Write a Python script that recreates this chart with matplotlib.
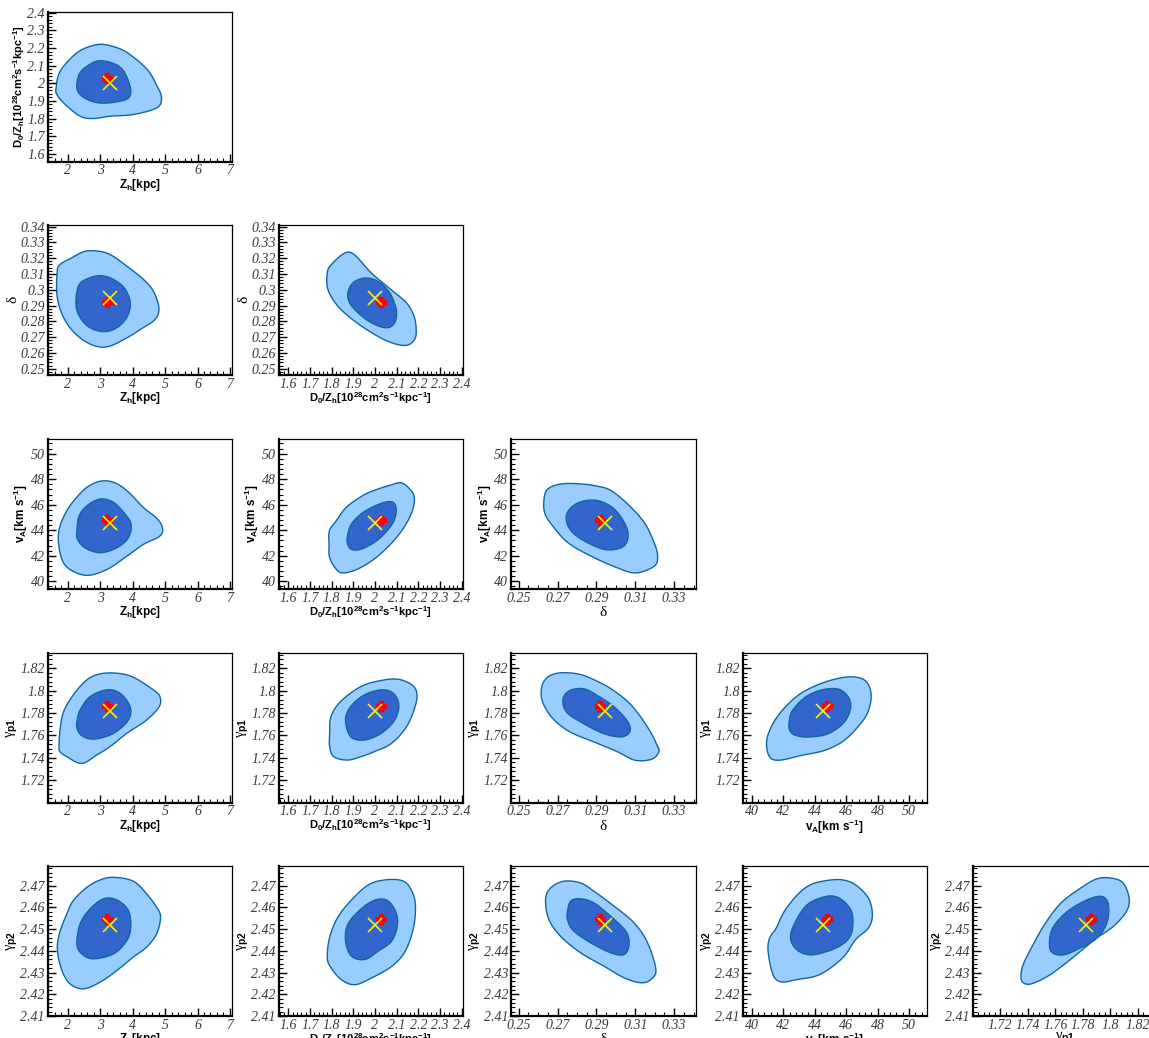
import numpy as np
import matplotlib
matplotlib.use("Agg")
import matplotlib.pyplot as plt
from matplotlib.ticker import FixedLocator, MultipleLocator, FuncFormatter

plt.rcParams["mathtext.fontset"] = "custom"
plt.rcParams["mathtext.rm"] = "Liberation Sans:bold"
plt.rcParams["mathtext.it"] = "Liberation Sans:bold"
plt.rcParams["mathtext.bf"] = "Liberation Sans:bold"
plt.rcParams["mathtext.sf"] = "Liberation Serif"

# ---------------------------------------------------------------- parameters
param_labels = [
    r"$\mathrm{Z_h[kpc]}$",
    r"$\mathrm{D_0/Z_h[10^{28}cm^2s^{-1}kpc^{-1}]}$",
    r"$\mathsf{\delta}$",
    r"$\mathrm{v_A[km\ s^{-1}]}$",
    r"$\mathsf{\gamma}_\mathrm{p1}$",
    r"$\mathsf{\gamma}_\mathrm{p2}$",
]
param_limits = [(1.38, 7.07), (1.555, 2.406), (0.246, 0.341),
                (39.4, 51.15), (1.70, 1.834), (2.41, 2.479)]

zh_ticks = [2, 3, 4, 5, 6, 7]
d0_ticks = [1.6, 1.7, 1.8, 1.9, 2.0, 2.1, 2.2, 2.3, 2.4]
delta_ticks_y = [0.25, 0.26, 0.27, 0.28, 0.29, 0.30, 0.31, 0.32, 0.33, 0.34]
delta_ticks_x = [0.25, 0.27, 0.29, 0.31, 0.33]
va_ticks = [40, 42, 44, 46, 48, 50]
gp1_ticks = [1.72, 1.74, 1.76, 1.78, 1.80, 1.82]
gp2_ticks = [2.41, 2.42, 2.43, 2.44, 2.45, 2.46, 2.47]
minor_steps = [0.2, 0.02, 0.002, 0.4, 0.004, 0.002]

# best-fit point (red plus) and posterior mean (yellow cross)
best_fit = [3.2, 2.03, 0.292, 44.8, 1.786, 2.4547]
post_mean = [3.3, 2.00, 0.2945, 44.55, 1.782, 2.4517]

# ---------------------------------------------------------------- contours
# 95% (outer) and 68% (inner) credible regions, (x, y) in data units
zh_d0_outer = [(1.64, 1.975), (1.72, 2.051), (1.97, 2.118), (2.38, 2.185), (2.90, 2.219),
               (3.31, 2.213), (3.82, 2.175), (4.44, 2.080), (4.75, 1.985), (4.89, 1.918),
               (4.75, 1.861), (4.03, 1.823), (3.31, 1.813), (2.79, 1.800), (2.38, 1.813),
               (1.92, 1.880), (1.66, 1.937)]
zh_d0_inner = [(2.28, 1.994), (2.38, 2.061), (2.69, 2.109), (3.00, 2.128), (3.41, 2.112),
               (3.72, 2.070), (3.93, 1.975), (3.88, 1.918), (3.52, 1.895), (3.00, 1.888),
               (2.59, 1.909), (2.33, 1.947)]

zh_delta_outer = [(1.67, 0.3106), (1.75, 0.3158), (2.10, 0.3200), (2.51, 0.3242), (2.91, 0.3245),
                  (3.32, 0.3221), (3.83, 0.3148), (4.34, 0.3064), (4.64, 0.2990), (4.81, 0.2885),
                  (4.69, 0.2812), (4.24, 0.2749), (3.83, 0.2696), (3.22, 0.2639), (2.71, 0.2654),
                  (2.20, 0.2728), (1.85, 0.2833), (1.67, 0.2959)]
zh_delta_inner = [(2.25, 0.2927), (2.35, 0.3032), (2.66, 0.3074), (3.02, 0.3089), (3.42, 0.3064),
                  (3.78, 0.3001), (3.93, 0.2906), (3.78, 0.2812), (3.42, 0.2749), (3.02, 0.2736),
                  (2.61, 0.2770), (2.33, 0.2843)]

d0_delta_outer = [(1.780, 0.3106), (1.798, 0.3158), (1.860, 0.3232), (1.906, 0.3221),
                  (1.983, 0.3106), (2.075, 0.3000), (2.145, 0.2917), (2.180, 0.2833),
                  (2.190, 0.2749), (2.183, 0.2686), (2.145, 0.2648), (2.075, 0.2665),
                  (1.998, 0.2717), (1.906, 0.2801), (1.829, 0.2896), (1.783, 0.3001)]
d0_delta_inner = [(1.875, 0.2980), (1.898, 0.3043), (1.952, 0.3074), (2.014, 0.3053),
                  (2.068, 0.2980), (2.098, 0.2875), (2.091, 0.2791), (2.052, 0.2759),
                  (1.983, 0.2791), (1.922, 0.2854), (1.883, 0.2917)]

zh_va_outer = [(1.71, 43.16), (1.76, 44.34), (1.97, 45.53), (2.23, 46.45), (2.59, 47.37),
               (3.00, 47.84), (3.41, 47.76), (3.82, 47.11), (4.33, 45.79), (4.74, 44.95),
               (4.92, 44.21), (4.84, 43.55), (4.33, 42.89), (3.82, 41.97), (3.20, 40.92),
               (2.59, 40.47), (2.07, 40.92), (1.82, 41.71)]
zh_va_inner = [(2.28, 43.95), (2.35, 45.13), (2.59, 45.92), (3.00, 46.45), (3.41, 46.18),
               (3.77, 45.26), (3.95, 44.47), (3.87, 43.42), (3.51, 42.63), (3.00, 42.24),
               (2.53, 42.63), (2.30, 43.29)]

d0_va_outer = [(1.788, 42.91), (1.790, 43.97), (1.822, 44.76), (1.869, 45.82), (1.947, 46.75),
               (2.009, 47.20), (2.072, 47.54), (2.119, 47.72), (2.158, 47.28), (2.181, 46.61),
               (2.173, 45.56), (2.134, 44.23), (2.072, 42.91), (1.994, 41.72), (1.916, 40.93),
               (1.853, 40.66), (1.822, 40.93), (1.791, 41.85)]
d0_va_inner = [(1.872, 43.44), (1.892, 44.50), (1.947, 45.42), (2.025, 46.08), (2.080, 46.22),
               (2.098, 45.56), (2.080, 44.50), (2.017, 43.31), (1.947, 42.59), (1.900, 42.46),
               (1.877, 42.78)]

delta_va_outer = [(0.2630, 46.45), (0.2650, 47.24), (0.2719, 47.63), (0.2821, 47.63),
                  (0.2907, 47.45), (0.2975, 47.11), (0.3061, 46.05), (0.3146, 44.61),
                  (0.3197, 43.03), (0.3215, 41.97), (0.3197, 41.18), (0.3103, 40.66),
                  (0.3009, 41.05), (0.2873, 41.97), (0.2753, 43.03), (0.2668, 44.47),
                  (0.2633, 45.39)]
delta_va_inner = [(0.2744, 44.87), (0.2762, 45.66), (0.2821, 46.24), (0.2907, 46.32),
                  (0.2992, 45.66), (0.3052, 44.34), (0.3061, 43.29), (0.3026, 42.63),
                  (0.2941, 42.50), (0.2838, 43.16), (0.2770, 43.95)]

zh_gp1_outer = [(1.73, 1.7499), (1.76, 1.7648), (1.87, 1.7812), (2.17, 1.7961), (2.59, 1.8096),
                (3.00, 1.8149), (3.51, 1.8155), (4.02, 1.8119), (4.64, 1.8006), (4.84, 1.7946),
                (4.82, 1.7857), (4.43, 1.7737), (3.82, 1.7618), (3.30, 1.7499), (2.89, 1.7424),
                (2.43, 1.7349), (1.97, 1.7409), (1.76, 1.7454)]
zh_gp1_inner = [(2.28, 1.7722), (2.38, 1.7827), (2.69, 1.7946), (3.20, 1.8006), (3.61, 1.7976),
                (3.92, 1.7857), (3.87, 1.7737), (3.41, 1.7618), (2.84, 1.7567), (2.48, 1.7588),
                (2.30, 1.7648)]

d0_gp1_outer = [(1.791, 1.7618), (1.797, 1.7767), (1.841, 1.7901), (1.935, 1.8036),
                (2.029, 1.8090), (2.107, 1.8101), (2.170, 1.8051), (2.193, 1.7976),
                (2.185, 1.7857), (2.146, 1.7678), (2.076, 1.7528), (1.997, 1.7454),
                (1.935, 1.7409), (1.872, 1.7379), (1.810, 1.7409), (1.791, 1.7499)]
d0_gp1_inner = [(1.864, 1.7737), (1.888, 1.7857), (1.951, 1.7961), (2.029, 1.8006),
                (2.084, 1.7976), (2.110, 1.7872), (2.091, 1.7737), (2.029, 1.7618),
                (1.951, 1.7558), (1.888, 1.7588)]

delta_gp1_outer = [(0.2618, 1.8031), (0.2649, 1.8120), (0.2711, 1.8158), (0.2799, 1.8150),
                   (0.2869, 1.8111), (0.2975, 1.8016), (0.3080, 1.7868), (0.3168, 1.7660),
                   (0.3212, 1.7512), (0.3221, 1.7452), (0.3185, 1.7387), (0.3098, 1.7378),
                   (0.3010, 1.7452), (0.2887, 1.7541), (0.2764, 1.7630), (0.2676, 1.7749),
                   (0.2623, 1.7897)]
delta_gp1_inner = [(0.2728, 1.7927), (0.2764, 1.8001), (0.2834, 1.8016), (0.2904, 1.7957),
                   (0.2992, 1.7853), (0.3062, 1.7719), (0.3071, 1.7630), (0.3027, 1.7586),
                   (0.2939, 1.7615), (0.2834, 1.7704), (0.2746, 1.7808)]

va_gp1_outer = [(40.93, 1.7525), (41.13, 1.7644), (41.75, 1.7792), (42.78, 1.7940),
                (43.81, 1.8028), (45.05, 1.8093), (46.29, 1.8123), (47.22, 1.8088),
                (47.59, 1.7969), (47.42, 1.7821), (46.91, 1.7703), (45.88, 1.7555),
                (44.64, 1.7466), (43.20, 1.7422), (41.75, 1.7378), (41.13, 1.7407)]
va_gp1_inner = [(42.37, 1.7718), (42.58, 1.7821), (43.40, 1.7940), (44.43, 1.8005),
                (45.46, 1.8014), (46.08, 1.7954), (46.29, 1.7851), (45.88, 1.7718),
                (44.85, 1.7614), (43.61, 1.7585), (42.78, 1.7600), (42.41, 1.7644)]

zh_gp2_outer = [(1.68, 2.4401), (1.74, 2.4478), (1.97, 2.4570), (2.17, 2.4631), (2.59, 2.4692),
                (3.00, 2.4726), (3.41, 2.4738), (4.02, 2.4720), (4.43, 2.4662), (4.74, 2.4600),
                (4.86, 2.4555), (4.74, 2.4478), (4.43, 2.4417), (4.02, 2.4371), (3.51, 2.4309),
                (3.00, 2.4256), (2.48, 2.4225), (2.07, 2.4248), (1.82, 2.4309)]
zh_gp2_inner = [(2.28, 2.4432), (2.38, 2.4524), (2.69, 2.4593), (3.10, 2.4639), (3.51, 2.4634),
                (3.87, 2.4585), (3.94, 2.4509), (3.82, 2.4447), (3.41, 2.4386), (2.79, 2.4363),
                (2.43, 2.4386)]

d0_gp2_outer = [(1.780, 2.4368), (1.791, 2.4462), (1.829, 2.4555), (1.891, 2.4633),
                (1.969, 2.4703), (2.047, 2.4726), (2.124, 2.4723), (2.163, 2.4688),
                (2.186, 2.4617), (2.178, 2.4508), (2.140, 2.4399), (2.078, 2.4329),
                (1.984, 2.4275), (1.907, 2.4244), (1.845, 2.4267), (1.798, 2.4321)]
d0_gp2_inner = [(1.864, 2.4446), (1.876, 2.4524), (1.938, 2.4594), (2.000, 2.4633),
                (2.054, 2.4633), (2.093, 2.4586), (2.104, 2.4524), (2.078, 2.4446),
                (2.016, 2.4399), (1.953, 2.4360), (1.891, 2.4376)]

delta_gp2_outer = [(0.2638, 2.4636), (0.2664, 2.4689), (0.2732, 2.4720), (0.2818, 2.4712),
                   (0.2887, 2.4674), (0.2991, 2.4605), (0.3094, 2.4528), (0.3163, 2.4437),
                   (0.3206, 2.4314), (0.3180, 2.4268), (0.3128, 2.4253), (0.3042, 2.4276),
                   (0.2939, 2.4329), (0.2818, 2.4391), (0.2715, 2.4467), (0.2655, 2.4544)]
delta_gp2_inner = [(0.2750, 2.4574), (0.2767, 2.4628), (0.2818, 2.4639), (0.2887, 2.4620),
                   (0.2973, 2.4559), (0.3051, 2.4490), (0.3068, 2.4429), (0.3042, 2.4383),
                   (0.2973, 2.4391), (0.2870, 2.4437), (0.2784, 2.4490), (0.2753, 2.4536)]

va_gp2_outer = [(41.03, 2.4398), (41.13, 2.4459), (41.55, 2.4505), (42.06, 2.4581),
                (42.89, 2.4657), (43.71, 2.4703), (44.74, 2.4723), (45.77, 2.4726),
                (46.60, 2.4703), (47.42, 2.4642), (47.67, 2.4566), (47.42, 2.4505),
                (46.60, 2.4451), (45.77, 2.4367), (44.33, 2.4291), (42.89, 2.4268),
                (41.86, 2.4257), (41.34, 2.4291)]
va_gp2_inner = [(42.47, 2.4451), (42.68, 2.4520), (43.51, 2.4611), (44.74, 2.4650),
                (45.57, 2.4642), (46.29, 2.4589), (46.43, 2.4520), (46.19, 2.4459),
                (45.36, 2.4413), (43.92, 2.4382), (42.99, 2.4398)]

gp1_gp2_outer = [(1.7350, 2.4283), (1.7367, 2.4337), (1.7426, 2.4413), (1.7521, 2.4520),
                 (1.7640, 2.4619), (1.7783, 2.4688), (1.7902, 2.4731), (1.8010, 2.4734),
                 (1.8093, 2.4711), (1.8136, 2.4642), (1.8117, 2.4581), (1.8021, 2.4512),
                 (1.7902, 2.4459), (1.7783, 2.4398), (1.7664, 2.4337), (1.7545, 2.4283),
                 (1.7426, 2.4248), (1.7367, 2.4253)]
gp1_gp2_inner = [(1.7557, 2.4428), (1.7581, 2.4505), (1.7688, 2.4581), (1.7830, 2.4634),
                 (1.7938, 2.4650), (1.7986, 2.4611), (1.7974, 2.4527), (1.7902, 2.4459),
                 (1.7783, 2.4413), (1.7664, 2.4382), (1.7581, 2.4390)]

# (x parameter, y parameter) -> (outer region, inner region)
regions = {
    (0, 1): (zh_d0_outer, zh_d0_inner),
    (0, 2): (zh_delta_outer, zh_delta_inner),
    (1, 2): (d0_delta_outer, d0_delta_inner),
    (0, 3): (zh_va_outer, zh_va_inner),
    (1, 3): (d0_va_outer, d0_va_inner),
    (2, 3): (delta_va_outer, delta_va_inner),
    (0, 4): (zh_gp1_outer, zh_gp1_inner),
    (1, 4): (d0_gp1_outer, d0_gp1_inner),
    (2, 4): (delta_gp1_outer, delta_gp1_inner),
    (3, 4): (va_gp1_outer, va_gp1_inner),
    (0, 5): (zh_gp2_outer, zh_gp2_inner),
    (1, 5): (d0_gp2_outer, d0_gp2_inner),
    (2, 5): (delta_gp2_outer, delta_gp2_inner),
    (3, 5): (va_gp2_outer, va_gp2_inner),
    (4, 5): (gp1_gp2_outer, gp1_gp2_inner),
}

# ---------------------------------------------------------------- styling
LIGHT = "#99ccff"
DARK = "#3366cc"
EDGE = "#0f67a0"
TICK_COLOR = "#3a3a3a"
W, H = 1149, 1038
col_left = [47.7, 278.5, 511.0, 742.5, 972.7]
row_top = [11.7, 225.0, 439.0, 652.5, 866.0]
panel_w, panel_h = 184.5, 150.0
label_sizes = [8.5, 8.0, 11.0, 8.5, 10.5, 10.5]


def closed_spline(points, n=16):
    """Smooth closed curve through the given vertices (Catmull-Rom)."""
    p = np.asarray(points, dtype=float)
    m = len(p)
    t = np.linspace(0.0, 1.0, n, endpoint=False)[:, None]
    out = []
    for i in range(m):
        p0, p1, p2, p3 = p[i - 1], p[i], p[(i + 1) % m], p[(i + 2) % m]
        seg = 0.5 * (2 * p1 + (-p0 + p2) * t
                     + (2 * p0 - 5 * p1 + 4 * p2 - p3) * t ** 2
                     + (-p0 + 3 * p1 - 3 * p2 + p3) * t ** 3)
        out.append(seg)
    out = np.vstack(out)
    return out[:, 0], out[:, 1]


def fmt(v, _pos):
    return "%g" % round(v, 4)


major_ticks_y = [zh_ticks, d0_ticks, delta_ticks_y, va_ticks, gp1_ticks, gp2_ticks]
major_ticks_x = [zh_ticks, d0_ticks, delta_ticks_x, va_ticks, gp1_ticks, gp2_ticks]
minor_x = [0.2, 0.02, 0.005, 0.4, 0.004, 0.002]

fig = plt.figure(figsize=(W / 100, H / 100), dpi=100)

for (xi, yi), (outer, inner) in regions.items():
    r, c = yi - 1, xi
    left = col_left[c] / W
    bottom = 1 - (row_top[r] + panel_h) / H
    ax = fig.add_axes([left, bottom, panel_w / W, panel_h / H])

    ox, oy = closed_spline(outer)
    ix, iy = closed_spline(inner)
    ax.fill(ox, oy, facecolor=LIGHT, edgecolor=EDGE, lw=1.0, zorder=1)
    ax.fill(ix, iy, facecolor=DARK, edgecolor=EDGE, lw=1.0, zorder=2)

    ax.plot(best_fit[xi], best_fit[yi], marker="P", ms=7, color="#ff0000",
            mec="#ff0000", ls="none", zorder=3)
    ax.plot(post_mean[xi], post_mean[yi], marker="x", ms=9.5, mew=1.2,
            color="#ffee00", ls="none", zorder=4)

    ax.set_xlim(*param_limits[xi])
    ax.set_ylim(*param_limits[yi])

    ax.xaxis.set_major_locator(FixedLocator(major_ticks_x[xi]))
    ax.yaxis.set_major_locator(FixedLocator(major_ticks_y[yi]))
    ax.xaxis.set_minor_locator(MultipleLocator(minor_x[xi]))
    ax.yaxis.set_minor_locator(MultipleLocator(minor_steps[yi]))
    ax.xaxis.set_major_formatter(FuncFormatter(fmt))
    ax.yaxis.set_major_formatter(FuncFormatter(fmt))

    ax.tick_params(which="both", direction="in", top=False, right=False,
                   colors="black", labelcolor=TICK_COLOR)
    ax.tick_params(which="major", length=6, width=1.0, pad=2)
    ax.tick_params(which="minor", length=3, width=0.8)
    for lab in ax.get_xticklabels() + ax.get_yticklabels():
        lab.set_fontfamily("Liberation Serif")
        lab.set_fontstyle("italic")
        lab.set_fontsize(10)

    for side in ("left", "bottom"):
        ax.spines[side].set_linewidth(1.6)
    for side in ("top", "right"):
        ax.spines[side].set_linewidth(0.9)

    ax.set_xlabel(param_labels[xi], fontsize=label_sizes[xi], labelpad=-0.5)
    ax.set_ylabel(param_labels[yi], fontsize=label_sizes[yi], labelpad=0.5)

fig.savefig("out.png", dpi=100)
